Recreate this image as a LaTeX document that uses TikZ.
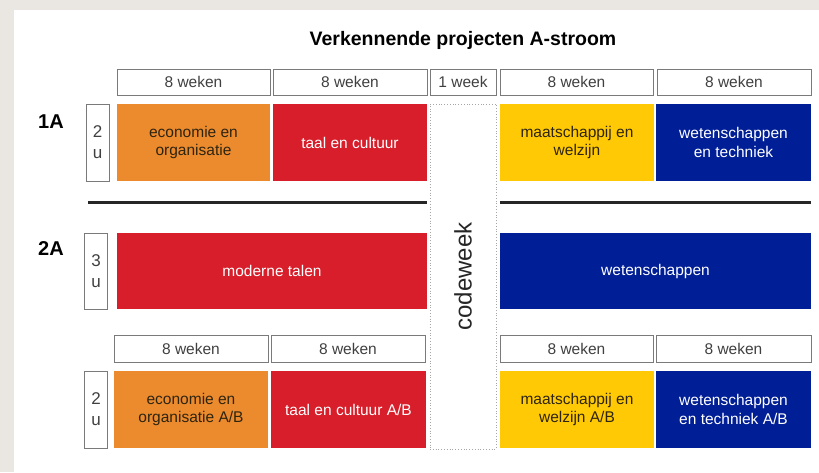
\documentclass[tikz,border=0pt]{standalone}
\usepackage{fontspec}
\setmainfont{Liberation Sans}
\definecolor{bgray}{HTML}{EAE7E2}
\definecolor{corange}{HTML}{EC8B2E}
\definecolor{cred}{HTML}{D71E2A}
\definecolor{cyellow}{HTML}{FFCA05}
\definecolor{cblue}{HTML}{001E96}
\definecolor{txtdark}{HTML}{2E2410}
\definecolor{edge}{HTML}{7A7A7A}
\begin{document}
\begin{tikzpicture}[x=1pt,y=-1pt,
  hdr/.style={draw=edge,line width=1pt,fill=white,inner sep=0pt,minimum height=26pt,font=\fontsize{15.5}{17}\selectfont,text=black!75},
  cell/.style={inner sep=0pt,minimum height=77pt,align=center,font=\fontsize{15.5}{18.5}\selectfont},
  dark/.style={cell,text=txtdark},
  light/.style={cell,text=white},
  ubox/.style={draw=edge,line width=1pt,fill=white,inner sep=0pt,minimum width=23pt,align=center,font=\fontsize{17}{21}\selectfont,text=black!75},
  rowlab/.style={font=\bfseries\fontsize{20}{22}\selectfont},
  sep/.style={line width=3pt,black!85}]
\fill[bgray] (0,0) rectangle (819,472);
\fill[white] (14,10) rectangle (819,472);
\useasboundingbox (0,0) rectangle (819,472);

\node[font=\bfseries\fontsize{19.5}{22}\selectfont] (title) at (463,40) {Verkennende projecten A-stroom};

% header row 1
\node[hdr,minimum width=153pt] (h1) at (193.5,82) {8 weken};
\node[hdr,minimum width=154pt] (h2) at (350,82) {8 weken};
\node[hdr,minimum width=66pt] (hw) at (463,82) {1 week};
\node[hdr,minimum width=153pt] (h4) at (576.5,82) {8 weken};
\node[hdr,minimum width=154pt] (h5) at (734,82) {8 weken};

% codeweek
\node[draw=black!35,dotted,line width=0.8pt,fill=white,minimum width=66pt,minimum height=345pt,inner sep=0pt] (cw) at (463,276.5) {};
\node[rotate=90,font=\fontsize{24}{26}\selectfont,text=black!85] (cwt) at (cw.center) {codeweek};

% row 1A
\node[rowlab] (l1) at (51,122) {1A};
\node[ubox,minimum height=77pt] (u1) at (97.5,142.5) {2\\u};
\node[dark,fill=corange,minimum width=153pt] (o1) at (193.5,142.5) {economie en\\organisatie};
\node[light,fill=cred,minimum width=154pt] (r1) at (350,142.5) {taal en cultuur};
\node[dark,fill=cyellow,minimum width=154pt] (y1) at (577,142.5) {maatschappij en\\welzijn};
\node[light,fill=cblue,minimum width=155pt] (b1) at (733.5,142.5) {wetenschappen\\en techniek};

% separators
\coordinate (s1a) at (88,202);
\coordinate (s1b) at (427,202);
\coordinate (s2a) at (500,202);
\coordinate (s2b) at (811,202);
\draw[sep] (s1a) -- (s1b);
\draw[sep] (s2a) -- (s2b);

% row 2A
\node[rowlab] (l2) at (51,249) {2A};
\node[ubox,minimum height=76pt] (u2) at (96,271) {3\\u};
\node[light,fill=cred,minimum width=310pt,minimum height=76pt] (r2) at (272,271) {moderne talen};
\node[light,fill=cblue,minimum width=311pt,minimum height=76pt] (b2) at (655.5,271) {wetenschappen};

% header row 2
\node[hdr,minimum width=154pt,minimum height=27pt] (h6) at (191,348.5) {8 weken};
\node[hdr,minimum width=154pt,minimum height=27pt] (h7) at (348,348.5) {8 weken};
\node[hdr,minimum width=153pt,minimum height=27pt] (h8) at (576.5,348.5) {8 weken};
\node[hdr,minimum width=155pt,minimum height=27pt] (h9) at (733.5,348.5) {8 weken};

% bottom row
\node[ubox,minimum height=77pt] (u3) at (96,409.5) {2\\u};
\node[dark,fill=corange,minimum width=154pt] (o3) at (191,409.5) {economie en\\organisatie A/B};
\node[light,fill=cred,minimum width=155pt] (r3) at (348.5,409.5) {taal en cultuur A/B};
\node[dark,fill=cyellow,minimum width=154pt] (y3) at (577,409.5) {maatschappij en\\welzijn A/B};
\node[light,fill=cblue,minimum width=155pt] (b3) at (733.5,409.5) {wetenschappen\\en techniek A/B};
\end{tikzpicture}
\end{document}
